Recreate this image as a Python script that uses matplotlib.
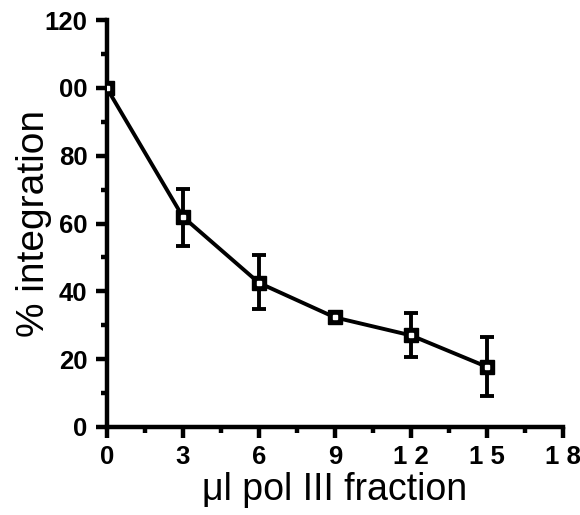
import matplotlib
matplotlib.use("Agg")
import matplotlib.pyplot as plt
import numpy as np

volume = [0, 3, 6, 9, 12, 15]
integration = [100, 62, 42.5, 32.3, 27, 17.7]
err_low = [0, 8.5, 7.8, 0, 6.5, 8.6]
err_high = [0, 8.3, 8.2, 0, 6.5, 8.8]

x_ticks = [0, 3, 6, 9, 12, 15, 18]
x_labels = ["0", "3", "6", "9", "1 2", "1 5", "1 8"]
y_ticks = [0, 20, 40, 60, 80, 100, 120]
y_labels = ["0", "20", "40", "60", "80", "00", "120"]

plt.rcParams.update({"font.family": ["Liberation Sans", "DejaVu Sans"]})

fig = plt.figure(figsize=(5.8, 5.15), dpi=100)
ax = fig.add_axes([0.184, 0.171, 0.787, 0.79])

ax.errorbar(volume, integration, yerr=[err_low, err_high], color="black",
            lw=2.8, elinewidth=2.8, capsize=5, capthick=2.8, zorder=2)
ax.plot(volume, integration, ls="none", marker="s", ms=10, mfc="black",
        mec="black", zorder=3)
ax.plot(volume, integration, ls="none", marker="s", ms=3.2, mfc="white",
        mec="white", zorder=4)

ax.set_xlim(0, 18)
ax.set_ylim(0, 120)
ax.set_xticks(x_ticks)
ax.set_xticklabels(x_labels)
ax.set_yticks(y_ticks)
ax.set_yticklabels(y_labels)
ax.set_xticks(np.arange(1.5, 18, 3), minor=True)
ax.set_yticks(np.arange(10, 120, 20), minor=True)

for side in ("top", "right"):
    ax.spines[side].set_visible(False)
for side in ("left", "bottom"):
    ax.spines[side].set_linewidth(3.2)
ax.tick_params(which="major", direction="out", length=8, width=3.2,
               labelsize=18.5)
ax.tick_params(axis="y", which="major", pad=6)
ax.tick_params(axis="x", which="major", pad=5)
ax.tick_params(which="minor", direction="out", length=4.5, width=3.2)
for lab in ax.get_xticklabels() + ax.get_yticklabels():
    lab.set_fontweight("bold")

ax.set_xlabel("\u03bcl pol III fraction", fontsize=27, labelpad=2)
ax.set_ylabel("% integration", fontsize=28)
ax.yaxis.set_label_coords(-0.12, 0.5)

fig.savefig("out.png", dpi=100)
